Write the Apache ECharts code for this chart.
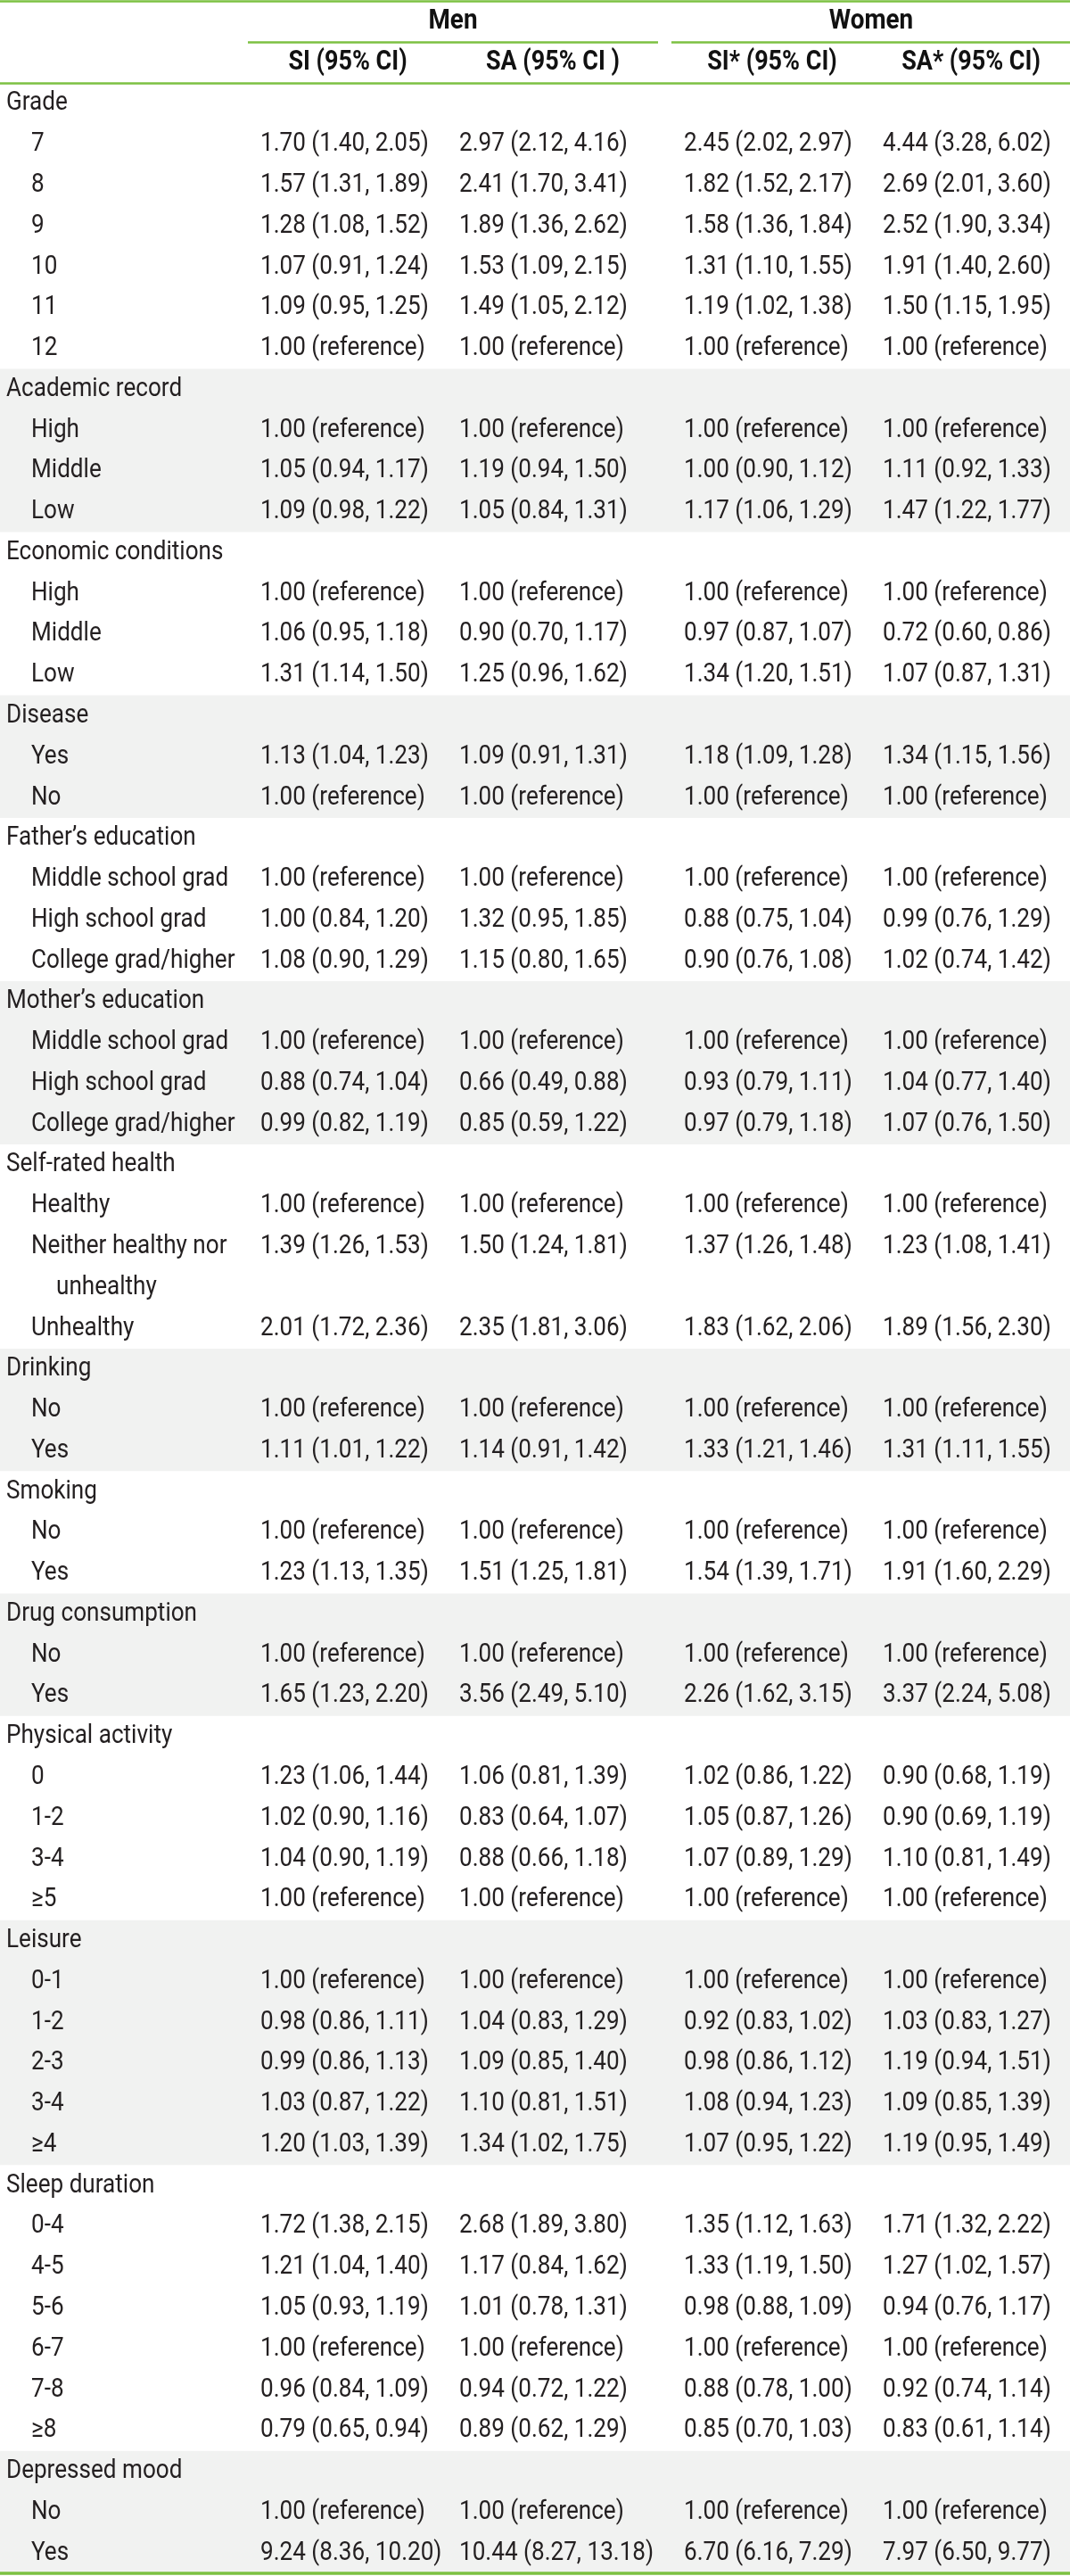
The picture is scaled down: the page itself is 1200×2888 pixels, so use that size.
<!DOCTYPE html>
<html>
<head>
<meta charset="utf-8">
<script src="https://cdn.jsdelivr.net/npm/echarts@6/dist/echarts.min.js"></script>
<style>
  html, body { margin: 0; padding: 0; background: #fff; }
  #main { width: 1200px; height: 2888px; }
</style>
</head>
<body>
<div id="main"></div>
<script>
// table header
const groupHeaders = ["Men", "Women"];
const colHeaders = ["SI (95% CI)", "SA (95% CI )", "SI* (95% CI)", "SA* (95% CI)"];

// row labels, level 0 = group, 1 = item, 2 = wrapped continuation
const rowLabels = [
  "Grade", "7", "8", "9", "10", "11", "12",
  "Academic record", "High", "Middle", "Low",
  "Economic conditions", "High", "Middle", "Low",
  "Disease", "Yes", "No",
  "Father’s education", "Middle school grad", "High school grad", "College grad/higher",
  "Mother’s education", "Middle school grad", "High school grad", "College grad/higher",
  "Self-rated health", "Healthy", "Neither healthy nor", "unhealthy", "Unhealthy",
  "Drinking", "No", "Yes",
  "Smoking", "No", "Yes",
  "Drug consumption", "No", "Yes",
  "Physical activity", "0", "1-2", "3-4", "≥5",
  "Leisure", "0-1", "1-2", "2-3", "3-4", "≥4",
  "Sleep duration", "0-4", "4-5", "5-6", "6-7", "7-8", "≥8",
  "Depressed mood", "No", "Yes"
];
const rowLevel = [
  0, 1, 1, 1, 1, 1, 1,
  0, 1, 1, 1,
  0, 1, 1, 1,
  0, 1, 1,
  0, 1, 1, 1,
  0, 1, 1, 1,
  0, 1, 1, 2, 1,
  0, 1, 1,
  0, 1, 1,
  0, 1, 1,
  0, 1, 1, 1, 1,
  0, 1, 1, 1, 1, 1,
  0, 1, 1, 1, 1, 1, 1,
  0, 1, 1
];

const ref = "1.00 (reference)";
const menSI = [
  null, "1.70 (1.40, 2.05)", "1.57 (1.31, 1.89)", "1.28 (1.08, 1.52)", "1.07 (0.91, 1.24)", "1.09 (0.95, 1.25)", ref,
  null, ref, "1.05 (0.94, 1.17)", "1.09 (0.98, 1.22)",
  null, ref, "1.06 (0.95, 1.18)", "1.31 (1.14, 1.50)",
  null, "1.13 (1.04, 1.23)", ref,
  null, ref, "1.00 (0.84, 1.20)", "1.08 (0.90, 1.29)",
  null, ref, "0.88 (0.74, 1.04)", "0.99 (0.82, 1.19)",
  null, ref, "1.39 (1.26, 1.53)", null, "2.01 (1.72, 2.36)",
  null, ref, "1.11 (1.01, 1.22)",
  null, ref, "1.23 (1.13, 1.35)",
  null, ref, "1.65 (1.23, 2.20)",
  null, "1.23 (1.06, 1.44)", "1.02 (0.90, 1.16)", "1.04 (0.90, 1.19)", ref,
  null, ref, "0.98 (0.86, 1.11)", "0.99 (0.86, 1.13)", "1.03 (0.87, 1.22)", "1.20 (1.03, 1.39)",
  null, "1.72 (1.38, 2.15)", "1.21 (1.04, 1.40)", "1.05 (0.93, 1.19)", ref, "0.96 (0.84, 1.09)", "0.79 (0.65, 0.94)",
  null, ref, "9.24 (8.36, 10.20)"
];
const menSA = [
  null, "2.97 (2.12, 4.16)", "2.41 (1.70, 3.41)", "1.89 (1.36, 2.62)", "1.53 (1.09, 2.15)", "1.49 (1.05, 2.12)", ref,
  null, ref, "1.19 (0.94, 1.50)", "1.05 (0.84, 1.31)",
  null, ref, "0.90 (0.70, 1.17)", "1.25 (0.96, 1.62)",
  null, "1.09 (0.91, 1.31)", ref,
  null, ref, "1.32 (0.95, 1.85)", "1.15 (0.80, 1.65)",
  null, ref, "0.66 (0.49, 0.88)", "0.85 (0.59, 1.22)",
  null, ref, "1.50 (1.24, 1.81)", null, "2.35 (1.81, 3.06)",
  null, ref, "1.14 (0.91, 1.42)",
  null, ref, "1.51 (1.25, 1.81)",
  null, ref, "3.56 (2.49, 5.10)",
  null, "1.06 (0.81, 1.39)", "0.83 (0.64, 1.07)", "0.88 (0.66, 1.18)", ref,
  null, ref, "1.04 (0.83, 1.29)", "1.09 (0.85, 1.40)", "1.10 (0.81, 1.51)", "1.34 (1.02, 1.75)",
  null, "2.68 (1.89, 3.80)", "1.17 (0.84, 1.62)", "1.01 (0.78, 1.31)", ref, "0.94 (0.72, 1.22)", "0.89 (0.62, 1.29)",
  null, ref, "10.44 (8.27, 13.18)"
];
const womenSI = [
  null, "2.45 (2.02, 2.97)", "1.82 (1.52, 2.17)", "1.58 (1.36, 1.84)", "1.31 (1.10, 1.55)", "1.19 (1.02, 1.38)", ref,
  null, ref, "1.00 (0.90, 1.12)", "1.17 (1.06, 1.29)",
  null, ref, "0.97 (0.87, 1.07)", "1.34 (1.20, 1.51)",
  null, "1.18 (1.09, 1.28)", ref,
  null, ref, "0.88 (0.75, 1.04)", "0.90 (0.76, 1.08)",
  null, ref, "0.93 (0.79, 1.11)", "0.97 (0.79, 1.18)",
  null, ref, "1.37 (1.26, 1.48)", null, "1.83 (1.62, 2.06)",
  null, ref, "1.33 (1.21, 1.46)",
  null, ref, "1.54 (1.39, 1.71)",
  null, ref, "2.26 (1.62, 3.15)",
  null, "1.02 (0.86, 1.22)", "1.05 (0.87, 1.26)", "1.07 (0.89, 1.29)", ref,
  null, ref, "0.92 (0.83, 1.02)", "0.98 (0.86, 1.12)", "1.08 (0.94, 1.23)", "1.07 (0.95, 1.22)",
  null, "1.35 (1.12, 1.63)", "1.33 (1.19, 1.50)", "0.98 (0.88, 1.09)", ref, "0.88 (0.78, 1.00)", "0.85 (0.70, 1.03)",
  null, ref, "6.70 (6.16, 7.29)"
];
const womenSA = [
  null, "4.44 (3.28, 6.02)", "2.69 (2.01, 3.60)", "2.52 (1.90, 3.34)", "1.91 (1.40, 2.60)", "1.50 (1.15, 1.95)", ref,
  null, ref, "1.11 (0.92, 1.33)", "1.47 (1.22, 1.77)",
  null, ref, "0.72 (0.60, 0.86)", "1.07 (0.87, 1.31)",
  null, "1.34 (1.15, 1.56)", ref,
  null, ref, "0.99 (0.76, 1.29)", "1.02 (0.74, 1.42)",
  null, ref, "1.04 (0.77, 1.40)", "1.07 (0.76, 1.50)",
  null, ref, "1.23 (1.08, 1.41)", null, "1.89 (1.56, 2.30)",
  null, ref, "1.31 (1.11, 1.55)",
  null, ref, "1.91 (1.60, 2.29)",
  null, ref, "3.37 (2.24, 5.08)",
  null, "0.90 (0.68, 1.19)", "0.90 (0.69, 1.19)", "1.10 (0.81, 1.49)", ref,
  null, ref, "1.03 (0.83, 1.27)", "1.19 (0.94, 1.51)", "1.09 (0.85, 1.39)", "1.19 (0.95, 1.49)",
  null, "1.71 (1.32, 2.22)", "1.27 (1.02, 1.57)", "0.94 (0.76, 1.17)", ref, "0.92 (0.74, 1.14)", "0.83 (0.61, 1.14)",
  null, ref, "7.97 (6.50, 9.77)"
];

// layout (x in pixels of the 1200 wide table, y in row slots)
const GREEN = "#7cc142";
const SHADE = "#f1f2f1";
const INK = "#231f20";
const FONT = "Roboto, 'Liberation Sans', sans-serif";
const NARROW = 0.87; // squeeze text to a condensed look
const HEAD_ROWS = 2;
const labelX = [7, 35, 63];
const dataX = [292, 515, 767, 990];
const colHeadX = [390, 620, 866, 1089];
const groupHeadX = [508, 977];
const dataCols = [menSI, menSA, womenSI, womenSA];
const totalRows = HEAD_ROWS + rowLabels.length;

// build text items: [x, slot, text, kind]
const cells = [];
groupHeaders.forEach((t, i) => cells.push([groupHeadX[i], 0.5, t, "group"]));
colHeaders.forEach((t, i) => cells.push([colHeadX[i], 1.5, t, "head"]));
rowLabels.forEach((t, r) => {
  const slot = HEAD_ROWS + r + 0.5;
  cells.push([labelX[rowLevel[r]], slot, t, "label"]);
  dataCols.forEach((col, c) => {
    if (col[r]) cells.push([dataX[c], slot, col[r], "label"]);
  });
});

// shaded bands: every second group
const bands = [];
let groupNo = -1;
let start = null;
rowLabels.forEach((t, r) => {
  if (rowLevel[r] === 0) {
    if (start !== null) { bands.push([start, HEAD_ROWS + r]); start = null; }
    groupNo++;
    if (groupNo % 2 === 1) start = HEAD_ROWS + r;
  }
});
if (start !== null) bands.push([start, totalRows]);

const fonts = {
  group: "bold 32px " + FONT,
  head: "bold 31px " + FONT,
  label: "30px " + FONT
};

const chart = echarts.init(document.getElementById("main"), null, { renderer: "canvas" });
const option = {
  backgroundColor: "#fff",
  animation: false,
  grid: { left: 0, right: 0, top: 1.5, bottom: 3 },
  xAxis: { type: "value", min: 0, max: 1200, show: false },
  yAxis: { type: "value", min: 0, max: totalRows, inverse: true, show: false },
  series: [
    {
      type: "custom",
      data: cells,
      silent: true,
      z: 10,
      renderItem(params, api) {
        const item = cells[params.dataIndex];
        const p = api.coord([item[0], item[1]]);
        const isHead = item[3] !== "label";
        return {
          type: "text",
          x: p[0],
          y: p[1],
          scaleX: NARROW,
          style: {
            text: item[2],
            fill: isHead ? "#111" : INK,
            font: fonts[item[3]],
            align: isHead ? "center" : "left",
            verticalAlign: "middle"
          }
        };
      },
      markArea: {
        silent: true,
        itemStyle: { color: SHADE },
        data: bands.map((b) => [{ yAxis: b[0], xAxis: 0 }, { yAxis: b[1], xAxis: 1200 }])
      },
      markLine: {
        silent: true,
        symbol: "none",
        label: { show: false },
        lineStyle: { color: GREEN, type: "solid", width: 2.5 },
        data: [
          [{ coord: [0, 0] }, { coord: [1200, 0] }],
          [{ coord: [278, 1] }, { coord: [738, 1] }],
          [{ coord: [753, 1] }, { coord: [1200, 1] }],
          [{ coord: [0, 2] }, { coord: [1200, 2] }],
          [{ coord: [0, totalRows] }, { coord: [1200, totalRows], lineStyle: { width: 3.5 } }]
        ]
      }
    }
  ]
};
chart.setOption(option);
</script>
</body>
</html>
